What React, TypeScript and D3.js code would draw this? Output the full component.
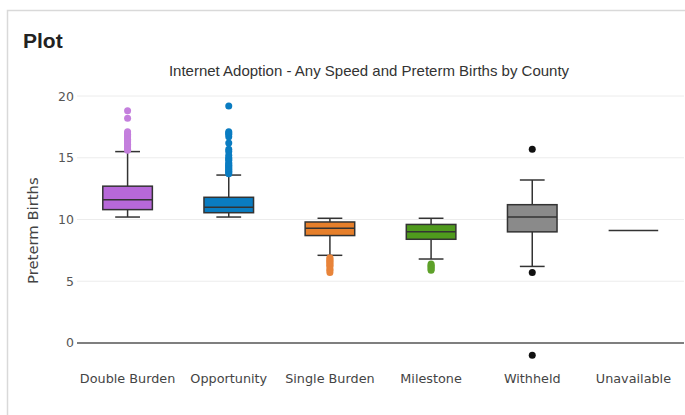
import React from "react";
import * as d3 from "d3";

const categories = ["Double Burden", "Opportunity", "Single Burden", "Milestone", "Withheld", "Unavailable"];
const lowerWhisker = [10.2, 10.2, 7.1, 6.8, 6.2, 9.1];
const q1Values = [10.8, 10.55, 8.7, 8.4, 9.0, 9.1];
const medianValues = [11.6, 11.0, 9.3, 9.0, 10.2, 9.1];
const q3Values = [12.7, 11.8, 9.8, 9.6, 11.2, 9.1];
const upperWhisker = [15.5, 13.6, 10.1, 10.1, 13.2, 9.1];
const outliers: number[][] = [
  [15.6, 15.7, 15.8, 15.9, 16.0, 16.1, 16.2, 16.3, 16.4, 16.5, 16.6, 16.7, 16.8, 16.9, 17.0, 17.1, 18.2, 18.8],
  [13.7, 13.8, 13.9, 14.0, 14.1, 14.2, 14.3, 14.4, 14.5, 14.6, 14.8, 14.9, 15.0, 15.2, 15.5, 15.7, 16.2, 16.7, 16.9, 17.0, 17.1, 19.2],
  [6.9, 6.8, 6.7, 6.6, 6.5, 6.4, 6.3, 6.2, 6.0, 5.9, 5.7],
  [6.4, 6.3, 6.2, 6.1, 6.0, 5.9],
  [15.7, 5.7, -1.0],
  [],
];
const fillColors = ["#b768d9", "#0a7cc1", "#e67f2b", "#4f9a1d", "#8a8a8a", "#8a8a8a"];
const pointColors = ["#c47fdd", "#0a7cc1", "#e8843a", "#5ea12a", "#111111", "#111111"];
const yTicks = [0, 5, 10, 15, 20];

export default function App() {
  const W = 685, H = 415;
  const plotLeft = 77, plotRight = 684;
  const x = d3.scaleBand<string>().domain(categories).range([plotLeft, plotRight]).paddingInner(0).paddingOuter(0);
  const y = d3.scaleLinear().domain([-1.8, 20.4]).range([365.2, 91.1]);
  const bw = x.bandwidth();
  const boxW = bw * 0.49;
  const capW = boxW * 0.5;
  const font = "'DejaVu Sans', Verdana, sans-serif";

  return (
    <svg width={W} height={H} style={{ position: "absolute", left: 0, top: 0, background: "#fff" }}>
      <rect x={7.5} y={10.5} width={700} height={420} fill="#fff" stroke="#d9d9d9" strokeWidth={1.5} />
      <text x={23} y={48} fontFamily="'Liberation Sans', Arial, sans-serif" fontSize={21} fontWeight={700} fill="#222">Plot</text>
      <text x={369} y={76} textAnchor="middle" fontFamily="'Liberation Sans', Arial, sans-serif" fontSize={15} fill="#333">
        Internet Adoption - Any Speed and Preterm Births by County
      </text>
      {yTicks.map((t) => (
        <g key={t}>
          {t !== 0 && <line x1={plotLeft} x2={plotRight} y1={y(t)} y2={y(t)} stroke="#ececec" strokeWidth={1} />}
          <text x={74} y={y(t) + 4.5} textAnchor="end" fontFamily={font} fontSize={12.5} fill="#555">{t}</text>
        </g>
      ))}
      <line x1={plotLeft} x2={plotRight} y1={y(0)} y2={y(0)} stroke="#555" strokeWidth={1.5} />
      <text transform={`translate(38,${y(9.1)}) rotate(-90)`} textAnchor="middle" fontFamily={font} fontSize={14.8} fill="#444">Preterm Births</text>
      {categories.map((c, i) => {
        const cx = (x(c) as number) + bw / 2;
        return (
          <g key={c}>
            <line x1={cx} x2={cx} y1={y(upperWhisker[i])} y2={y(q3Values[i])} stroke="#333" strokeWidth={1.5} />
            <line x1={cx} x2={cx} y1={y(q1Values[i])} y2={y(lowerWhisker[i])} stroke="#333" strokeWidth={1.5} />
            {q3Values[i] !== q1Values[i] && (
              <>
                <line x1={cx - capW / 2} x2={cx + capW / 2} y1={y(upperWhisker[i])} y2={y(upperWhisker[i])} stroke="#333" strokeWidth={1.5} />
                <line x1={cx - capW / 2} x2={cx + capW / 2} y1={y(lowerWhisker[i])} y2={y(lowerWhisker[i])} stroke="#333" strokeWidth={1.5} />
                <rect x={cx - boxW / 2} y={y(q3Values[i])} width={boxW} height={y(q1Values[i]) - y(q3Values[i])} fill={fillColors[i]} stroke="#333" strokeWidth={1.5} />
              </>
            )}
            <line x1={cx - boxW / 2} x2={cx + boxW / 2} y1={y(medianValues[i])} y2={y(medianValues[i])} stroke="#333" strokeWidth={1.5} />
            {outliers[i].map((v, j) => (
              <circle key={j} cx={cx} cy={y(v)} r={3.5} fill={pointColors[i]} />
            ))}
            <text x={cx} y={383} textAnchor="middle" fontFamily={font} fontSize={12.8} fill="#444">{c}</text>
          </g>
        );
      })}
    </svg>
  );
}
